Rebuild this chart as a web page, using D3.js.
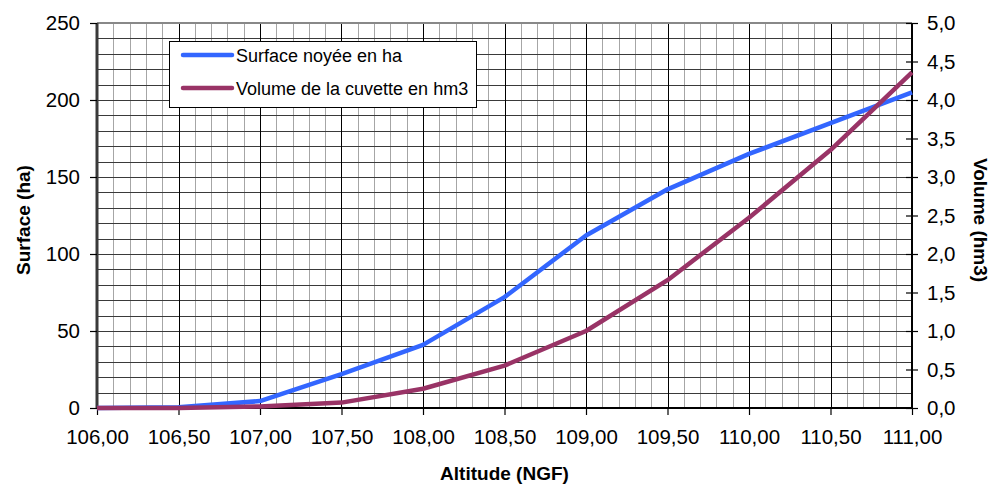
<!DOCTYPE html>
<html>
<head>
<meta charset="utf-8">
<script src="https://cdn.jsdelivr.net/npm/d3@7/dist/d3.min.js"></script>
<style>
  html, body { margin: 0; padding: 0; background: #fff; }
  svg { display: block; font-family: "Liberation Sans", Arial, sans-serif; }
</style>
</head>
<body>
<svg id="chart" width="990" height="486"></svg>
<script>
// Altitude (m NGF) of each survey step
const altitudes = [106.0, 106.5, 107.0, 107.5, 108.0, 108.5, 109.0, 109.5, 110.0, 110.5, 111.0];
// Flooded area (ha) at each altitude
const surfaceHa = [0, 0.5, 4.5, 22, 41, 72, 112, 142, 165, 185, 205];
// Basin volume (hm3) at each altitude
const volumeHm3 = [0, 0, 0.02, 0.07, 0.25, 0.55, 1.0, 1.66, 2.47, 3.35, 4.36];

const seriesNames = ["Surface noyée en ha", "Volume de la cuvette en hm3"];
const xTicks = [106.0, 106.5, 107.0, 107.5, 108.0, 108.5, 109.0, 109.5, 110.0, 110.5, 111.0];
const leftTicks = [0, 50, 100, 150, 200, 250];
const rightTicks = [0, 0.5, 1.0, 1.5, 2.0, 2.5, 3.0, 3.5, 4.0, 4.5, 5.0];

const svg = d3.select("#chart");
const m = { left: 97, right: 912, top: 23, bottom: 408 };

const x = d3.scaleLinear().domain([106, 111]).range([m.left, m.right]);
const yL = d3.scaleLinear().domain([0, 250]).range([m.bottom, m.top]);
const yR = d3.scaleLinear().domain([0, 5]).range([m.bottom, m.top]);

const fmt = (d, n) => d.toFixed(n).replace(".", ",");

// Grid: minor verticals every 0.1, major every 0.5, horizontals every 10 ha
const grid = svg.append("g").attr("shape-rendering", "crispEdges");
const minorX = d3.range(1060, 1111, 1).map(v => v / 10).filter(v => Math.round(v * 10) % 5 !== 0);
grid.selectAll("line.vminor").data(minorX).join("line")
  .attr("x1", d => Math.round(x(d)) + 0.5).attr("x2", d => Math.round(x(d)) + 0.5)
  .attr("y1", m.top).attr("y2", m.bottom)
  .attr("stroke", "#a6a6a6").attr("stroke-width", 1);
grid.selectAll("line.h").data(d3.range(10, 250, 10)).join("line")
  .attr("x1", m.left).attr("x2", m.right)
  .attr("y1", d => Math.round(yL(d)) + 0.5).attr("y2", d => Math.round(yL(d)) + 0.5)
  .attr("stroke", "#3a3a3a").attr("stroke-width", 1);
grid.selectAll("line.vmajor").data(xTicks.slice(1, -1)).join("line")
  .attr("x1", d => Math.round(x(d)) + 0.5).attr("x2", d => Math.round(x(d)) + 0.5)
  .attr("y1", m.top).attr("y2", m.bottom)
  .attr("stroke", "#000").attr("stroke-width", 1);

// Top border of the plot area
grid.append("line").attr("x1", m.left).attr("x2", m.right)
  .attr("y1", m.top).attr("y2", m.top).attr("stroke", "#888").attr("stroke-width", 2);

// Axes
const axLeft = d3.axisLeft(yL).tickValues(leftTicks).tickSize(7).tickPadding(10).tickFormat(d => d);
const axBottom = d3.axisBottom(x).tickValues(xTicks).tickSize(7).tickPadding(14).tickFormat(d => fmt(d, 2));
const axRight = d3.axisRight(yR).tickValues(rightTicks).tickSize(6).tickPadding(9).tickFormat(d => fmt(d, 1));

function styleAxis(g, color, width) {
  g.select(".domain").attr("stroke", color).attr("stroke-width", width);
  g.selectAll(".tick line").attr("stroke", "#000").attr("stroke-width", 1.2);
  g.selectAll(".tick text").attr("fill", "#000").style("font-size", "20.5px")
    .style("font-family", "'Liberation Sans', Arial, sans-serif");
}

const gB = svg.append("g").attr("transform", `translate(0,${m.bottom})`).call(axBottom);
gB.call(g => styleAxis(g, "#000", 2));
gB.select(".domain").attr("d", `M${m.left},0H${m.right}`);

const gL = svg.append("g").attr("transform", `translate(${m.left},0)`).call(axLeft);
gL.call(g => styleAxis(g, "#3a3a3a", 3));
gL.select(".domain").attr("d", `M0,${m.bottom}V${m.top}`);

const gR = svg.append("g").attr("transform", `translate(${m.right},0)`).call(axRight);
gR.call(g => styleAxis(g, "#000", 2));
gR.select(".domain").attr("d", `M0,${m.bottom}V${m.top}`);
// right-axis ticks cross the axis line
gR.selectAll(".tick line").attr("x1", -6).attr("x2", 6);

// Series lines
const lineL = d3.line().x((d, i) => x(altitudes[i])).y(d => yL(d));
const lineR = d3.line().x((d, i) => x(altitudes[i])).y(d => yR(d));

svg.append("path").datum(surfaceHa).attr("d", lineL)
  .attr("fill", "none").attr("stroke", "#3366ff").attr("stroke-width", 4.5)
  .attr("stroke-linejoin", "round");
svg.append("path").datum(volumeHm3).attr("d", lineR)
  .attr("fill", "none").attr("stroke", "#993366").attr("stroke-width", 4.5)
  .attr("stroke-linejoin", "round");

// Axis titles
svg.append("text").attr("x", (m.left + m.right) / 2).attr("y", 480)
  .attr("text-anchor", "middle").style("font-size", "19px").style("font-weight", "bold")
  .text("Altitude (NGF)");
svg.append("text").attr("transform", `translate(30,220) rotate(-90)`)
  .attr("text-anchor", "middle").style("font-size", "19px").style("font-weight", "bold")
  .text("Surface (ha)");
svg.append("text").attr("transform", `translate(974,220) rotate(90)`)
  .attr("text-anchor", "middle").style("font-size", "19px").style("font-weight", "bold")
  .text("Volume (hm3)");

// Legend
const leg = svg.append("g");
leg.append("rect").attr("x", 169.5).attr("y", 41.5).attr("width", 307).attr("height", 66)
  .attr("fill", "#fff").attr("stroke", "#000").attr("stroke-width", 1);
const legColors = ["#3366ff", "#993366"];
seriesNames.forEach((name, i) => {
  const cy = 55 + i * 33;
  leg.append("line").attr("x1", 183).attr("x2", 232).attr("y1", cy).attr("y2", cy)
    .attr("stroke", legColors[i]).attr("stroke-width", 4.5).attr("stroke-linecap", "round");
  leg.append("text").attr("x", 236).attr("y", cy + 6.5)
    .style("font-size", "18px").text(name);
});
</script>
</body>
</html>
